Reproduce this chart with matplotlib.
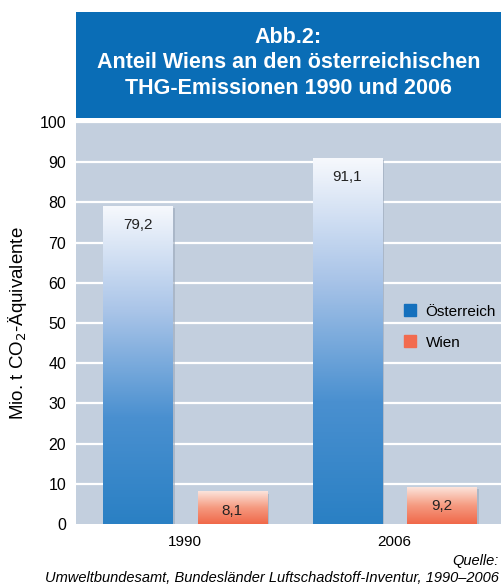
import numpy as np
import matplotlib.pyplot as plt
from matplotlib.colors import LinearSegmentedColormap
from matplotlib.patches import Rectangle, Patch

plt.rcParams['font.family'] = ['Liberation Sans Narrow', 'Liberation Sans', 'DejaVu Sans']

# data
years = ['1990', '2006']
oesterreich = [79.2, 91.1]
wien = [8.1, 9.2]
series_names = ['Österreich', 'Wien']
yticks = list(range(0, 101, 10))

fig = plt.figure(figsize=(5.01, 5.87), dpi=100)

# header box
hdr = fig.add_axes([76 / 501, 1 - 118 / 587, 425 / 501, 106 / 587])
hdr.set_facecolor('#0A6DB6')
hdr.set_xticks([])
hdr.set_yticks([])
for s in hdr.spines.values():
    s.set_visible(False)
hdr.text(0.5, 0.52, 'Abb.2:\nAnteil Wiens an den österreichischen\nTHG-Emissionen 1990 und 2006',
         ha='center', va='center', color='white', fontsize=15.5, fontweight='bold',
         linespacing=1.3, transform=hdr.transAxes)

ax = fig.add_axes([76 / 501, 1 - 524 / 587, 425 / 501, 402 / 587])
ax.set_facecolor('#C3CFDE')
for s in ax.spines.values():
    s.set_visible(False)
ax.set_ylim(0, 100)
ax.set_xlim(-0.52, 1.508)
ax.set_yticks(yticks)
ax.tick_params(axis='y', length=0, pad=7, labelsize=11.5)
ax.tick_params(axis='x', length=0, pad=8, labelsize=11)
x = np.arange(len(years))
ax.set_xticks(x)
ax.set_xticklabels(years)
for t in yticks[1:]:
    ax.axhline(t, color='white', lw=1.6, zorder=1)

cm_a = LinearSegmentedColormap.from_list('a', ['#2A80C4', '#4A90D0', '#A9C4E8', '#F7F9FD'])
cm_w = LinearSegmentedColormap.from_list('w', ['#F06849', '#F59A80', '#FCE4DC'])
grad = np.linspace(0, 1, 256).reshape(-1, 1)

w = 0.33
off = 0.226
for vals, dx, cmap in [(oesterreich, -off, cm_a), (wien, off, cm_w)]:
    bars = ax.bar(x + dx, vals, width=w, color='none', zorder=3)
    for b, v in zip(bars, vals):
        x0 = b.get_x()
        # soft shadow
        ax.add_patch(Rectangle((x0 + 0.012, 0), w, v - 0.6, color='#9AA8BA', alpha=0.6,
                               zorder=2, lw=0))
        im = ax.imshow(grad, extent=[x0, x0 + w, 0, v], origin='lower', cmap=cmap,
                       aspect='auto', zorder=3)
        im.set_clip_path(b)
        ax.text(x0 + w / 2, v - 4.8, f'{v:.1f}'.replace('.', ','), ha='center', va='center',
                fontsize=11, color='#222222', zorder=4)
ax.set_xlim(-0.52, 1.508)
ax.set_ylim(0, 100)

ax.set_ylabel('Mio. t CO$_2$-Äquivalente', fontsize=13.5, labelpad=8)

handles = [Patch(color='#1570BD'), Patch(color='#F26B4F')]
ax.legend(handles, series_names, loc='center left', bbox_to_anchor=(0.74, 0.49),
          frameon=False, fontsize=11, handlelength=0.8, handleheight=0.8,
          labelspacing=1.1, handletextpad=0.6)

fig.text(0.995, 1 - 561 / 587, 'Quelle:', ha='right', va='center', style='italic', fontsize=10.5)
fig.text(0.995, 1 - 578 / 587, 'Umweltbundesamt, Bundesländer Luftschadstoff-Inventur, 1990–2006',
         ha='right', va='center', style='italic', fontsize=10.5)

fig.savefig('out.png', dpi=100)
